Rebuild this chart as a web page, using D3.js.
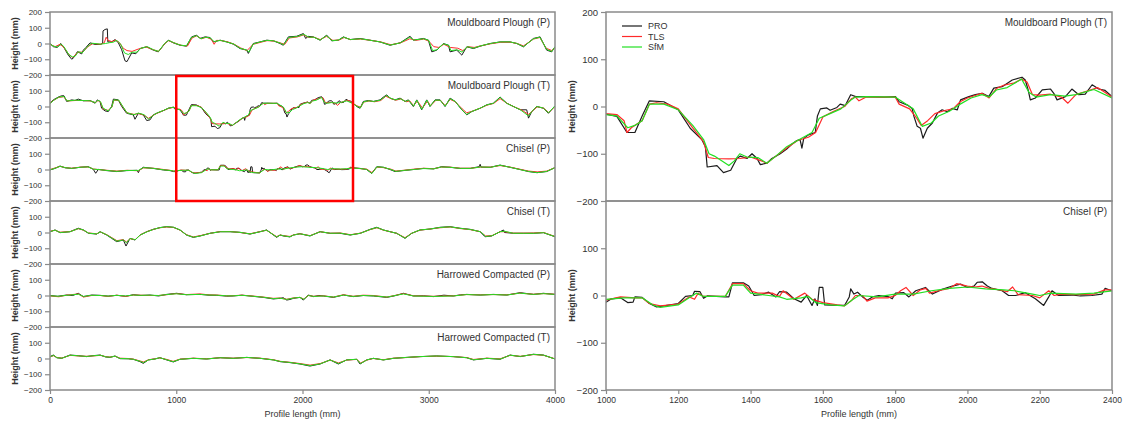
<!DOCTYPE html>
<html lang="en">
<head>
<meta charset="UTF-8">
<title>Surface profiles PRO / TLS / SfM</title>
<script src="https://d3js.org/d3.v7.min.js"></script>
<style>
    body { margin: 0; background: #fff; }
    text { font-family: "Liberation Sans", Arial, sans-serif; fill: #333; }
</style>
</head>
<body>
<svg id="chart" width="1126" height="423"></svg>
<script>
    // profile data, [distance (mm), height (mm)]
    const mbP_pro = [[0,0],[26,-20],[58,-25],[84,0],[106,-20],[145,-74],[172,-100],[190,-88],[217,-52],[251,-66],[264,-42],[285,-25],[317,4],[357,-6],[396,-6],[417,0],[420,80],[436,89],[454,93],[458,10],[488,10],[515,25],[541,5],[568,-40],[594,-110],[610,-115],[620,-100],[647,-60],[680,-65],[713,-32],[766,-21],[818,-42],[858,-53],[911,0],[937,21],[977,4],[1030,-11],[1082,-17],[1122,42],[1162,53],[1188,32],[1228,42],[1267,38],[1294,10],[1347,21],[1400,10],[1452,-4],[1505,-32],[1558,-42],[1571,-63],[1610,0],[1663,10],[1716,21],[1769,17],[1822,0],[1848,-11],[1888,42],[1954,46],[2007,63],[2025,32],[2045,45],[2086,42],[2139,21],[2192,53],[2231,17],[2284,21],[2324,42],[2377,25],[2456,32],[2535,21],[2614,10],[2693,-11],[2773,4],[2852,46],[2878,21],[2958,32],[2997,21],[3024,-53],[3064,-42],[3116,0],[3156,-11],[3169,-53],[3222,-42],[3262,-74],[3301,-21],[3354,-32],[3407,-17],[3486,0],[3565,10],[3644,10],[3697,0],[3750,-21],[3829,32],[3882,42],[3934,-42],[3974,-53],[4000,-21]];
    const mbP_tls = [[0,-5],[40,-20],[80,-5],[110,-25],[150,-70],[180,-90],[220,-55],[260,-55],[300,-20],[340,0],[400,-5],[430,5],[445,40],[460,20],[490,12],[520,22],[550,5],[580,-30],[610,-45],[650,-50],[700,-35],[760,-22],[820,-40],[860,-50],[910,0],[940,18],[980,5],[1040,-12],[1090,-15],[1125,35],[1160,48],[1200,30],[1240,40],[1280,25],[1300,-5],[1320,20],[1360,18],[1410,10],[1460,-5],[1510,-28],[1560,-45],[1610,-5],[1670,8],[1720,18],[1780,15],[1830,2],[1860,-5],[1895,35],[1960,42],[2010,55],[2050,38],[2090,40],[2140,25],[2190,45],[2240,20],[2290,22],[2330,38],[2380,25],[2460,28],[2540,20],[2620,10],[2700,-8],[2780,5],[2850,30],[2900,20],[2960,28],[3000,15],[3040,-20],[3080,-25],[3120,-5],[3170,-25],[3230,-30],[3270,-45],[3310,-20],[3360,-25],[3410,-15],[3490,-2],[3570,8],[3650,8],[3700,0],[3750,-15],[3830,28],[3880,38],[3930,-30],[3975,-45],[4000,-25]];
    const mbP_sfm = [[0,-3],[30,-18],[60,-22],[90,-5],[110,-20],[150,-72],[178,-85],[200,-80],[225,-52],[255,-60],[290,-25],[330,2],[400,-4],[440,0],[470,5],[500,8],[530,20],[560,-5],[590,-60],[620,-70],[650,-55],[690,-55],[720,-30],[770,-20],[820,-40],[860,-50],[905,-2],[940,20],[980,5],[1030,-10],[1080,-15],[1120,38],[1160,50],[1195,30],[1230,40],[1270,35],[1300,12],[1350,20],[1400,10],[1455,-3],[1505,-30],[1560,-42],[1575,-55],[1610,-3],[1665,10],[1720,20],[1770,17],[1825,2],[1850,-8],[1890,38],[1955,44],[2010,58],[2050,40],[2090,40],[2140,22],[2190,50],[2235,18],[2285,22],[2325,40],[2380,25],[2460,30],[2540,20],[2615,10],[2695,-10],[2775,4],[2850,40],[2880,22],[2960,30],[3000,20],[3030,-45],[3065,-40],[3115,-2],[3160,-12],[3175,-45],[3225,-40],[3265,-55],[3305,-20],[3355,-30],[3410,-15],[3490,0],[3565,10],[3645,10],[3700,0],[3750,-20],[3830,30],[3880,40],[3935,-38],[3975,-50],[4000,-20]];

    const mbT_pro = [[0,21],[26,42],[66,60],[92,68],[111,68],[132,32],[172,42],[198,38],[224,47],[264,36],[317,38],[357,21],[375,42],[396,32],[409,-11],[436,-28],[462,-32],[488,0],[502,47],[541,42],[568,0],[607,-43],[660,-53],[673,-81],[700,-43],[739,-53],[766,-89],[792,-85],[818,-53],[845,-43],[898,-26],[937,-11],[977,-4],[990,-18],[1000,-16],[1030,-21],[1058,-55],[1080,-55],[1100,-20],[1120,12],[1160,10],[1200,-7],[1233,-46],[1265,-70],[1275,-85],[1280,-128],[1307,-125],[1325,-140],[1345,-135],[1362,-110],[1372,-105],[1390,-110],[1404,-100],[1418,-110],[1427,-123],[1445,-120],[1459,-110],[1482,-100],[1500,-90],[1514,-80],[1528,-72],[1537,-70],[1542,-88],[1547,-68],[1560,-60],[1579,-55],[1585,-20],[1593,-5],[1611,-3],[1620,-8],[1639,-2],[1648,5],[1662,2],[1677,25],[1691,21],[1719,21],[1770,20],[1801,21],[1811,10],[1834,3],[1847,-4],[1852,-21],[1861,-42],[1870,-46],[1877,-67],[1889,-46],[1903,-35],[1917,-14],[1930,-7],[1944,-11],[1958,-4],[1972,-7],[1981,14],[2004,21],[2022,25],[2041,28],[2059,21],[2073,39],[2096,42],[2124,56],[2151,62],[2160,56],[2168,35],[2174,14],[2188,18],[2207,35],[2230,37],[2239,28],[2248,14],[2271,21],[2289,37],[2308,25],[2326,26],[2345,46],[2363,37],[2381,34],[2400,21],[2429,0],[2456,-11],[2482,32],[2522,38],[2561,32],[2614,42],[2641,60],[2667,74],[2693,53],[2733,42],[2773,53],[2812,32],[2838,42],[2878,0],[2905,42],[2944,-21],[2984,42],[3010,0],[3050,42],[3090,42],[3129,0],[3169,53],[3209,32],[3262,-21],[3301,-53],[3341,-32],[3407,-11],[3460,11],[3512,21],[3565,60],[3618,21],[3671,0],[3724,-21],[3776,-21],[3790,-74],[3816,-32],[3856,0],[3908,-11],[3948,-43],[4000,4]];
    const mbT_tls = [[0,20],[30,40],[70,58],[110,62],[135,35],[200,38],[260,38],[320,35],[360,25],[380,38],[400,28],[420,-15],[460,-25],[490,-5],[505,40],[545,38],[575,0],[610,-40],[665,-50],[700,-45],[745,-55],[780,-75],[820,-55],[850,-42],[900,-25],[940,-12],[980,-5],[1000,-15],[1030,-17],[1050,-30],[1058,-55],[1070,-45],[1090,-35],[1100,-30],[1120,5],[1140,8],[1170,5],[1200,-5],[1240,-45],[1270,-75],[1283,-108],[1300,-110],[1340,-111],[1370,-110],[1400,-107],[1430,-115],[1445,-120],[1470,-105],[1500,-88],[1530,-72],[1560,-65],[1580,-55],[1600,-22],[1630,-10],[1660,0],[1680,17],[1690,20],[1700,12],[1720,20],[1800,20],[1811,5],[1840,-5],[1860,-25],[1872,-40],[1890,-30],[1910,-15],[1940,-8],[1960,-5],[1980,10],[2000,18],[2040,28],[2060,18],[2080,38],[2100,45],[2130,50],[2150,58],[2165,52],[2180,25],[2200,24],[2230,26],[2260,20],[2278,7],[2300,25],[2340,35],[2360,40],[2400,20],[2430,5],[2460,-5],[2485,28],[2530,35],[2570,30],[2620,38],[2660,65],[2700,50],[2740,40],[2780,48],[2820,30],[2850,35],[2880,5],[2910,35],[2950,-10],[2990,35],[3015,5],[3055,38],[3095,38],[3130,5],[3170,45],[3210,30],[3265,-15],[3300,-40],[3345,-30],[3410,-10],[3460,8],[3515,20],[3565,50],[3620,20],[3670,0],[3730,-20],[3790,-50],[3820,-30],[3860,-2],[3910,-10],[3950,-38],[4000,0]];
    const mbT_sfm = [[0,18],[30,40],[70,60],[110,64],[135,35],[200,40],[260,38],[320,36],[360,24],[380,40],[400,30],[420,-10],[460,-28],[490,-3],[505,42],[545,40],[575,2],[610,-40],[665,-52],[700,-42],[745,-52],[780,-80],[820,-55],[850,-40],[900,-25],[940,-10],[980,-5],[1000,-17],[1030,-20],[1060,-45],[1080,-40],[1100,-30],[1120,5],[1160,5],[1200,-7],[1240,-40],[1270,-70],[1285,-100],[1300,-105],[1320,-115],[1340,-125],[1355,-115],[1370,-100],[1390,-107],[1420,-108],[1445,-120],[1470,-105],[1500,-85],[1530,-72],[1570,-55],[1590,-25],[1620,-15],[1650,-5],[1680,15],[1690,20],[1720,21],[1800,20],[1820,10],[1850,-5],[1875,-42],[1900,-35],[1920,-20],[1950,-10],[1980,5],[2010,18],[2040,25],[2060,20],[2080,35],[2110,40],[2150,58],[2170,30],[2190,20],[2230,25],[2270,22],[2300,25],[2350,36],[2400,18],[2430,2],[2460,-8],[2485,30],[2525,36],[2565,32],[2615,40],[2665,70],[2700,52],[2735,42],[2775,50],[2815,32],[2840,40],[2880,2],[2905,40],[2945,-18],[2985,40],[3010,2],[3050,40],[3090,40],[3130,2],[3170,50],[3210,32],[3262,-20],[3300,-50],[3340,-32],[3410,-10],[3460,10],[3512,20],[3565,58],[3618,20],[3671,0],[3724,-20],[3790,-60],[3816,-32],[3856,0],[3908,-10],[3948,-40],[4000,4]];

    const chP_pro = [[0,-3],[40,7],[79,22],[119,11],[172,7],[238,14],[304,18],[343,1],[362,-24],[383,1],[449,-7],[528,-13],[607,-7],[690,-5],[700,-20],[710,-3],[739,14],[818,7],[898,-3],[951,-7],[977,-13],[1000,-14],[1015,-7],[1040,-5],[1060,-15],[1075,-14],[1080,-3],[1100,-4],[1120,-17],[1140,-24],[1160,-22],[1200,-17],[1220,-2],[1240,0],[1245,9],[1260,8],[1270,-6],[1280,-1],[1330,-3],[1340,-3],[1350,27],[1380,27],[1395,20],[1410,0],[1430,2],[1450,7],[1470,-3],[1480,8],[1500,7],[1520,-7],[1540,-14],[1555,0],[1570,-21],[1578,-7],[1585,-21],[1590,17],[1600,17],[1605,-20],[1640,-21],[1660,-21],[1673,-3],[1677,14],[1686,3],[1696,7],[1710,-3],[1723,-10],[1737,-3],[1755,0],[1783,-3],[1792,-7],[1801,5],[1824,6],[1838,-3],[1857,10],[1884,17],[1903,3],[1930,13],[1958,20],[1981,24],[2000,17],[2018,20],[2027,28],[2041,29],[2055,20],[2068,15],[2096,10],[2114,0],[2133,0],[2160,6],[2188,-7],[2211,-21],[2225,-3],[2234,10],[2252,0],[2289,1],[2312,-1],[2344,0],[2372,3],[2381,15],[2400,10],[2456,7],[2508,0],[2548,-25],[2588,18],[2641,14],[2693,0],[2733,-13],[2799,-7],[2878,0],[2958,7],[3037,4],[3103,18],[3169,14],[3248,7],[3328,7],[3400,18],[3407,33],[3415,15],[3486,14],[3565,28],[3644,14],[3724,0],[3790,-13],[3856,-20],[3934,-13],[4000,12]];
    const chP_tls = [[0,0],[40,10],[80,20],[120,12],[170,8],[240,15],[300,16],[345,3],[380,0],[450,-5],[530,-10],[610,-5],[700,-8],[740,10],[820,8],[900,0],[950,-5],[980,-10],[1000,-10],[1040,-3],[1080,-5],[1100,-5],[1120,-17],[1150,-22],[1200,-18],[1230,-3],[1245,-8],[1255,5],[1270,-2],[1330,-2],[1350,25],[1380,25],[1400,10],[1420,5],[1460,5],[1480,-2],[1490,10],[1520,-8],[1550,5],[1570,-8],[1600,-15],[1640,-20],[1660,-22],[1680,-10],[1690,0],[1710,0],[1722,-12],[1745,-5],[1780,-5],[1800,0],[1815,10],[1830,17],[1850,0],[1870,12],[1885,15],[1895,5],[1920,10],[1950,15],[1970,25],[2000,20],[2020,18],[2040,20],[2060,15],[2090,12],[2110,8],[2125,18],[2140,2],[2180,0],[2200,-5],[2225,10],[2240,0],[2260,3],[2300,2],[2350,3],[2380,12],[2400,12],[2460,5],[2510,2],[2550,-20],[2590,15],[2640,12],[2700,2],[2740,-10],[2800,-5],[2880,2],[2960,8],[3040,5],[3100,15],[3170,15],[3250,8],[3330,8],[3410,15],[3490,15],[3565,25],[3645,15],[3720,2],[3790,-10],[3860,-15],[3935,-10],[4000,12]];
    const chP_sfm = [[0,-2],[40,8],[80,20],[120,12],[170,7],[240,14],[300,17],[345,2],[380,0],[450,-6],[530,-12],[610,-6],[700,-6],[740,12],[820,7],[900,-2],[950,-6],[980,-10],[1000,-8],[1050,-5],[1100,-5],[1130,-20],[1150,-25],[1200,-20],[1230,-5],[1250,5],[1270,-2],[1330,-2],[1350,22],[1380,22],[1400,5],[1450,0],[1480,-3],[1500,-8],[1540,-5],[1560,-2],[1580,-15],[1620,-20],[1660,-22],[1680,-10],[1700,0],[1750,-3],[1800,3],[1850,3],[1900,10],[1950,15],[2000,18],[2050,14],[2100,12],[2130,10],[2180,3],[2200,0],[2230,5],[2300,3],[2350,5],[2400,10],[2460,6],[2510,0],[2550,-25],[2590,17],[2640,14],[2700,0],[2740,-12],[2800,-6],[2880,0],[2960,6],[3040,4],[3100,16],[3170,14],[3250,7],[3330,7],[3410,16],[3490,14],[3565,27],[3645,14],[3720,0],[3790,-12],[3860,-20],[3935,-12],[4000,12]];

    const chT_pro = [[0,5],[40,16],[79,-1],[158,5],[224,27],[264,16],[304,-5],[370,-10],[396,5],[449,-16],[488,-37],[528,-58],[581,-48],[602,-86],[634,-37],[673,-48],[713,-16],[766,5],[818,20],[871,31],[924,37],[977,33],[1030,16],[1082,-16],[1135,-31],[1188,-22],[1267,-5],[1347,5],[1426,5],[1505,1],[1584,-10],[1663,5],[1716,16],[1795,-31],[1822,-16],[1848,-22],[1901,-28],[1927,-16],[1980,-8],[2059,-22],[2139,5],[2218,-5],[2297,-5],[2377,-16],[2456,-5],[2535,20],[2588,33],[2641,16],[2693,5],[2746,-5],[2812,-37],[2865,-5],[2931,16],[3010,22],[3090,33],[3169,37],[3248,27],[3328,20],[3407,5],[3446,-27],[3499,-22],[3565,5],[3592,16],[3600,0],[3671,-5],[3750,-5],[3829,-5],[3908,-1],[3961,-16],[4000,-27]];
    const chT_tls = [[0,8],[40,14],[80,2],[160,6],[225,24],[265,15],[305,-3],[370,-8],[400,3],[450,-14],[490,-33],[530,-52],[580,-45],[605,-60],[635,-40],[675,-45],[715,-15],[770,6],[820,20],[870,30],[925,35],[980,32],[1030,15],[1080,-14],[1135,-28],[1190,-20],[1270,-5],[1350,6],[1430,6],[1505,0],[1585,-8],[1665,6],[1715,14],[1795,-26],[1825,-16],[1850,-20],[1900,-25],[1930,-15],[1980,-8],[2060,-20],[2140,5],[2220,-5],[2300,-3],[2380,-14],[2460,-4],[2535,18],[2590,30],[2640,15],[2695,5],[2745,-5],[2812,-33],[2865,-5],[2930,15],[3010,22],[3090,30],[3170,35],[3250,25],[3330,18],[3410,5],[3450,-22],[3500,-20],[3565,5],[3600,5],[3670,-4],[3750,-4],[3830,-3],[3910,0],[3960,-14],[4000,-25]];
    const chT_sfm = [[0,5],[40,15],[80,0],[160,5],[225,25],[265,16],[305,-4],[370,-9],[400,4],[450,-15],[490,-35],[530,-55],[580,-47],[605,-65],[635,-38],[675,-46],[715,-16],[770,5],[820,20],[870,31],[925,37],[980,33],[1030,16],[1080,-15],[1135,-30],[1190,-22],[1270,-5],[1350,5],[1430,5],[1505,1],[1585,-9],[1665,5],[1715,15],[1795,-28],[1825,-16],[1850,-21],[1900,-27],[1930,-16],[1980,-8],[2060,-21],[2140,5],[2220,-5],[2300,-4],[2380,-15],[2460,-5],[2535,19],[2590,32],[2640,16],[2695,5],[2745,-5],[2812,-36],[2865,-5],[2930,16],[3010,22],[3090,32],[3170,36],[3250,26],[3330,19],[3410,5],[3450,-25],[3500,-21],[3565,5],[3600,8],[3670,-5],[3750,-5],[3830,-5],[3910,-1],[3960,-15],[4000,-26]];

    const hcP_pro = [[0,0],[60,-5],[132,3],[180,0],[224,14],[264,-7],[330,3],[396,1],[460,-4],[528,1],[600,-5],[660,5],[720,0],[792,3],[860,-3],[924,7],[1003,14],[1080,5],[1188,7],[1260,2],[1320,1],[1400,-4],[1452,-3],[1520,2],[1584,-3],[1640,-8],[1690,-12],[1769,-22],[1822,-18],[1848,-14],[1875,-29],[1901,-25],[1928,-18],[1980,-12],[2007,-29],[2046,3],[2086,-7],[2130,0],[2165,-3],[2244,-12],[2324,3],[2403,-7],[2482,0],[2561,-3],[2620,-8],[2667,-12],[2730,-2],[2799,14],[2878,-3],[2960,-2],[3037,-7],[3120,2],[3195,-3],[3250,4],[3301,7],[3407,3],[3512,7],[3618,3],[3724,18],[3829,7],[3908,14],[4000,7]];
    const hcP_tls = [[0,-3],[70,-8],[130,2],[225,10],[265,-10],[330,0],[400,0],[460,-6],[530,2],[600,-6],[660,3],[720,2],[790,0],[860,0],[925,5],[1000,12],[1080,6],[1190,10],[1260,4],[1320,3],[1400,-2],[1450,-1],[1520,2],[1585,-2],[1640,-6],[1690,-10],[1770,-18],[1820,-16],[1875,-24],[1930,-15],[1980,-12],[2010,-22],[2046,0],[2090,-5],[2165,-2],[2245,-10],[2325,5],[2400,-5],[2480,2],[2560,0],[2670,-10],[2800,12],[2880,-2],[3040,-5],[3195,-2],[3300,6],[3410,4],[3510,6],[3620,4],[3720,15],[3830,8],[3910,12],[4000,8]];
    const hcP_sfm = [[0,-2],[70,-5],[130,1],[225,8],[265,-6],[330,1],[400,0],[460,-4],[530,1],[600,-3],[660,3],[720,1],[790,2],[860,0],[925,6],[1000,11],[1080,5],[1190,7],[1260,3],[1320,2],[1400,-2],[1450,-2],[1520,1],[1585,-3],[1640,-7],[1690,-11],[1770,-20],[1820,-17],[1875,-25],[1930,-16],[1980,-12],[2010,-24],[2046,0],[2090,-6],[2165,-3],[2245,-10],[2325,3],[2400,-6],[2480,0],[2560,-2],[2670,-10],[2800,10],[2880,-3],[3040,-6],[3195,-3],[3300,6],[3410,3],[3510,6],[3620,3],[3720,15],[3830,7],[3910,12],[4000,7]];

    const hcT_pro = [[0,12],[26,22],[53,5],[92,1],[158,22],[224,18],[290,12],[340,18],[396,22],[440,10],[475,7],[515,16],[554,-1],[620,-2],[660,-5],[713,-20],[739,-31],[779,-9],[832,-3],[871,5],[924,-9],[977,-22],[1030,-5],[1135,1],[1241,-3],[1347,5],[1452,1],[1558,7],[1663,1],[1769,-9],[1822,-20],[1901,-26],[1980,-35],[2059,-48],[2139,-35],[2218,-9],[2284,-35],[2350,-9],[2429,-5],[2456,-35],[2508,-9],[2561,1],[2641,-9],[2720,1],[2825,7],[2931,12],[3063,16],[3195,12],[3301,5],[3354,-9],[3460,1],[3565,-5],[3644,22],[3724,12],[3829,27],[3908,22],[4000,-3]];
    const hcT_tls = [[0,10],[30,18],[55,6],[95,3],[160,20],[225,16],[290,14],[340,16],[400,20],[440,12],[475,9],[515,14],[555,2],[620,0],[660,-4],[715,-16],[740,-22],[780,-8],[830,-2],[870,4],[925,-6],[975,-18],[1030,-4],[1135,2],[1240,-2],[1350,5],[1450,2],[1560,6],[1665,2],[1770,-8],[1825,-18],[1900,-24],[1980,-32],[2060,-42],[2140,-32],[2220,-10],[2285,-28],[2350,-10],[2430,-6],[2460,-28],[2510,-10],[2560,0],[2640,-8],[2720,2],[2825,6],[2930,12],[3060,15],[3195,12],[3300,6],[3355,-6],[3460,2],[3565,-2],[3645,20],[3725,14],[3830,25],[3910,20],[4000,-2]];
    const hcT_sfm = [[0,11],[30,20],[55,5],[95,2],[160,21],[225,17],[290,13],[340,17],[400,21],[440,11],[475,8],[515,15],[555,0],[620,-1],[660,-5],[715,-18],[740,-26],[780,-9],[830,-3],[870,5],[925,-8],[975,-20],[1030,-5],[1135,1],[1240,-3],[1350,5],[1450,1],[1560,7],[1665,1],[1770,-9],[1825,-19],[1900,-25],[1980,-34],[2060,-45],[2140,-34],[2220,-9],[2285,-32],[2350,-9],[2430,-5],[2460,-32],[2510,-9],[2560,1],[2640,-9],[2720,1],[2825,7],[2930,12],[3060,16],[3195,12],[3300,5],[3355,-8],[3460,1],[3565,-4],[3645,21],[3725,13],[3830,26],[3910,21],[4000,-3]];

    const titles = ['Mouldboard Plough (P)', 'Mouldboard Plough (T)', 'Chisel (P)', 'Chisel (T)', 'Harrowed Compacted (P)', 'Harrowed Compacted (T)'];
    const seriesNames = ['PRO', 'TLS', 'SfM'];
    const yTicks = [-200, -100, 0, 100, 200];
    const leftXTicks = [0, 1000, 2000, 3000, 4000];
    const rightXTicks = [1000, 1200, 1400, 1600, 1800, 2000, 2200, 2400];
    const zoomRange = [1000, 2400];

    const profiles = [
        [mbP_pro, mbP_tls, mbP_sfm],
        [mbT_pro, mbT_tls, mbT_sfm],
        [chP_pro, chP_tls, chP_sfm],
        [chT_pro, chT_tls, chT_sfm],
        [hcP_pro, hcP_tls, hcP_sfm],
        [hcT_pro, hcT_tls, hcT_sfm]
    ];

    const colors = d3.scaleOrdinal().domain(seriesNames).range(['#1c1c1c', '#ff2a2a', '#22e022']);
    const frameColor = '#8a8a8a';

    const svg = d3.select('#chart');
    svg.append('rect').attr('width', 1126).attr('height', 423).attr('fill', '#fff');

    let clipId = 0;

    function drawPanel(x, top, h, data, title, isTop, opts) {
        const y = d3.scaleLinear().domain([-200, 200]).range([top + h, top]);
        const g = svg.append('g');
        const id = 'clip' + (clipId++);
        g.append('clipPath').attr('id', id)
            .append('rect')
            .attr('x', x.range()[0]).attr('y', top)
            .attr('width', x.range()[1] - x.range()[0]).attr('height', h);

        const line = d3.line().x(d => x(d[0])).y(d => y(d[1]));
        const lines = g.append('g').attr('clip-path', `url(#${id})`);
        data.forEach((s, i) => {
            const pts = s.filter(d => d[0] >= x.domain()[0] - 60 && d[0] <= x.domain()[1] + 60);
            lines.append('path')
                .attr('d', line(pts))
                .attr('fill', 'none')
                .attr('stroke', colors(seriesNames[i]))
                .attr('stroke-width', opts.lw)
                .attr('stroke-linejoin', 'round');
        });

        g.append('rect')
            .attr('x', x.range()[0]).attr('y', top)
            .attr('width', x.range()[1] - x.range()[0]).attr('height', h)
            .attr('fill', 'none').attr('stroke', frameColor).attr('stroke-width', 1.5);

        const ax = g.append('g')
            .attr('transform', `translate(${x.range()[0]},0)`)
            .call(d3.axisLeft(y).tickValues(isTop ? yTicks : yTicks.slice(0, 4))
                .tickSize(opts.tick).tickPadding(3).tickFormat(d3.format('d')));
        ax.select('.domain').remove();
        ax.selectAll('line').attr('stroke', frameColor).attr('stroke-width', 1.2);
        ax.selectAll('text').style('font-size', opts.tickFont + 'px').attr('fill', '#333')
            .style('font-family', '"Liberation Sans", Arial, sans-serif');

        g.append('text')
            .attr('x', x.range()[1] - opts.titleInset)
            .attr('y', top + 14)
            .attr('text-anchor', 'end')
            .style('font-size', '10px')
            .text(title);

        g.append('text')
            .attr('transform', `translate(${opts.labelX},${top + h / 2}) rotate(-90)`)
            .attr('text-anchor', 'middle')
            .attr('dy', '0.35em')
            .style('font-size', '9px')
            .style('font-weight', 'bold')
            .attr('fill', '#444')
            .text('Height (mm)');
        return y;
    }

    function drawXAxis(x, bottom, ticks) {
        const ax = svg.append('g')
            .attr('transform', `translate(0,${bottom})`)
            .call(d3.axisBottom(x).tickValues(ticks).tickSize(4).tickPadding(3).tickFormat(d3.format('d')));
        ax.select('.domain').remove();
        ax.selectAll('line').attr('stroke', frameColor).attr('stroke-width', 1.2);
        ax.selectAll('text').style('font-size', '8.5px').attr('fill', '#333')
            .style('font-family', '"Liberation Sans", Arial, sans-serif');
        svg.append('text')
            .attr('x', (x.range()[0] + x.range()[1]) / 2)
            .attr('y', bottom + 27)
            .attr('text-anchor', 'middle')
            .style('font-size', '9px')
            .text('Profile length (mm)');
    }

    // left: all six profiles
    const xLeft = d3.scaleLinear().domain([0, 4000]).range([50, 555]);
    const leftTop = 12, leftH = 63;
    const leftY = profiles.map((p, i) => drawPanel(xLeft, leftTop + i * leftH, leftH, p, titles[i], i === 0,
        { lw: 1, tick: 5, tickFont: 8, titleInset: 5, labelX: 15 }));
    drawXAxis(xLeft, leftTop + 6 * leftH, leftXTicks);

    // zoom box on the left
    svg.append('rect')
        .attr('x', xLeft(zoomRange[0]))
        .attr('y', leftY[1](200) + 1)
        .attr('width', xLeft(zoomRange[1]) - xLeft(zoomRange[0]))
        .attr('height', leftY[2](-200) - leftY[1](200) - 1)
        .attr('fill', 'none').attr('stroke', '#ff0000').attr('stroke-width', 2.5);

    // right: detail of profiles 2 and 3
    const xRight = d3.scaleLinear().domain(zoomRange).range([606, 1112]);
    const rightTop = 12, rightH = 189;
    [1, 2].forEach((k, j) => drawPanel(xRight, rightTop + j * rightH, rightH, profiles[k], titles[k], j === 0,
        { lw: 1.2, tick: 5, tickFont: 9.5, titleInset: 5, labelX: 572 }));
    drawXAxis(xRight, rightTop + 2 * rightH, rightXTicks);

    // legend
    const legend = svg.append('g').attr('transform', 'translate(622,26)');
    seriesNames.forEach((s, i) => {
        legend.append('line')
            .attr('x1', 0).attr('x2', 20)
            .attr('y1', i * 10.5).attr('y2', i * 10.5)
            .attr('stroke', colors(s)).attr('stroke-width', 1.2);
        legend.append('text')
            .attr('x', 26).attr('y', i * 10.5)
            .attr('dy', '0.35em')
            .style('font-size', '9px')
            .text(s);
    });
</script>
</body>
</html>
